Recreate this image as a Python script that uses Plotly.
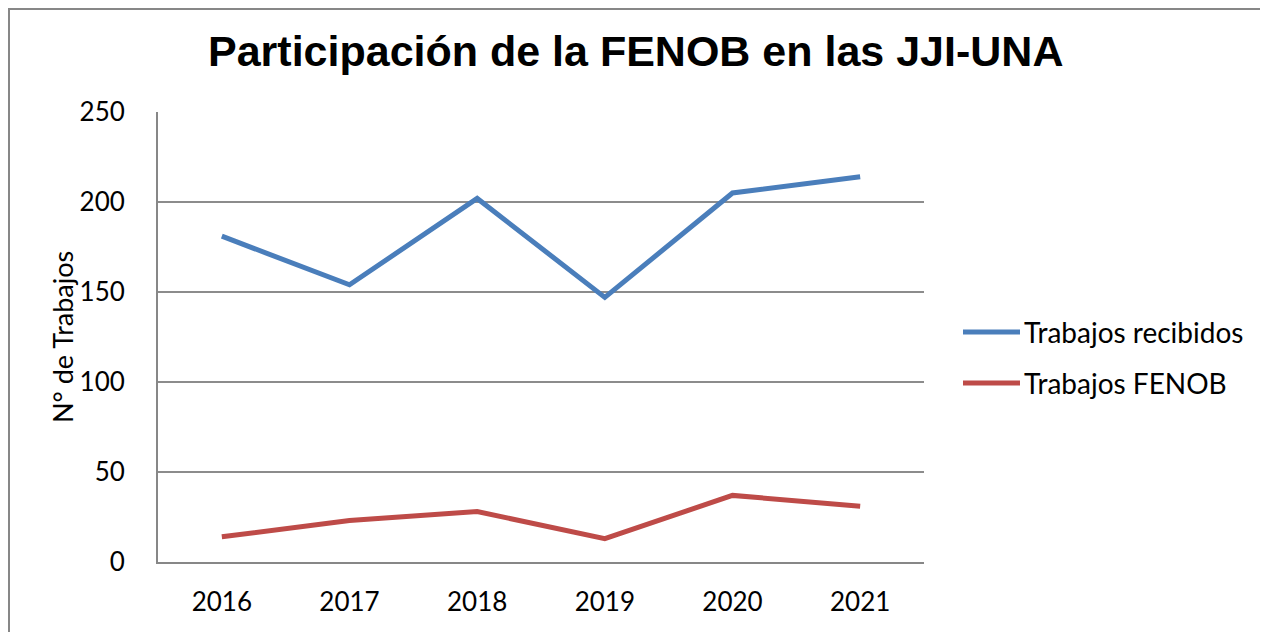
import plotly.graph_objects as go

years = ["2016", "2017", "2018", "2019", "2020", "2021"]
recibidos = [181, 154, 202, 147, 205, 214]
fenob = [14, 23, 28, 13, 37, 31]
series_names = ["Trabajos recibidos", "Trabajos FENOB"]
series_colors = ["#4A7EBB", "#BE4B48"]
title_text = "Participación de la FENOB en las JJI-UNA"
y_title = "N° de Trabajos"
y_ticks = [0, 50, 100, 150, 200, 250]

W, H = 1268, 632
OX, OY = 8, 8  # page body offset
L, R, T, B = 158 - OX, W - (924 - OX), 112 - OY, H - (562 - OY)
pw, ph = W - L - R, H - T - B

def px_x(x):
    return (x - OX - L) / pw

def px_y(y):
    return (H - B - (y - OY)) / ph

fig = go.Figure()
for name, vals, col in zip(series_names, [recibidos, fenob], series_colors):
    fig.add_trace(go.Scatter(x=years, y=vals, mode="lines", name=name,
                             line=dict(color=col, width=5), showlegend=False))

shapes = []
annotations = []
# chart border (extends past right/bottom edges)
shapes.append(dict(type="rect", xref="paper", yref="paper",
                   x0=px_x(9), x1=px_x(1300), y0=px_y(680), y1=px_y(9),
                   line=dict(color="#878787", width=2), layer="below"))
# manual legend
for i, (name, col) in enumerate(zip(series_names, series_colors)):
    yy = [332, 383][i]
    shapes.append(dict(type="line", xref="paper", yref="paper",
                       x0=px_x(963), x1=px_x(1020), y0=px_y(yy), y1=px_y(yy),
                       line=dict(color=col, width=5)))
    annotations.append(dict(text=name, xref="paper", yref="paper",
                            x=px_x(1022), y=px_y(yy), xanchor="left", yanchor="middle",
                            showarrow=False, font=dict(family="Lato", size=28, color="black")))
# y axis title
annotations.append(dict(text=y_title, xref="paper", yref="paper",
                        x=px_x(62), y=px_y(337), xanchor="center", yanchor="middle",
                        textangle=-90, showarrow=False,
                        font=dict(family="Lato", size=27, color="black")))
# title
annotations.append(dict(text="<b>" + title_text + "</b>", xref="paper", yref="paper",
                        x=px_x(635), y=px_y(51), xanchor="center", yanchor="middle",
                        showarrow=False,
                        font=dict(family="Liberation Sans", size=43, color="black")))

fig.update_layout(
    width=W, height=H,
    margin=dict(l=L, r=R, t=T, b=B, autoexpand=False),
    paper_bgcolor="white", plot_bgcolor="white",
    shapes=shapes, annotations=annotations,
    xaxis=dict(type="category", range=[-0.5, 5.5], showgrid=False,
               showline=True, linecolor="#878787", linewidth=2,
               ticks="", ticklabelstandoff=16,
               tickfont=dict(family="Lato", size=26, color="black")),
    yaxis=dict(range=[0, 250], tickvals=y_ticks, showgrid=True,
               gridcolor="#8C8C8C", gridwidth=1.5,
               showline=True, linecolor="#878787", linewidth=2,
               zeroline=False, ticks="", ticklabelstandoff=26,
               tickfont=dict(family="Lato", size=26, color="black")),
)

fig.write_html("out.html")
